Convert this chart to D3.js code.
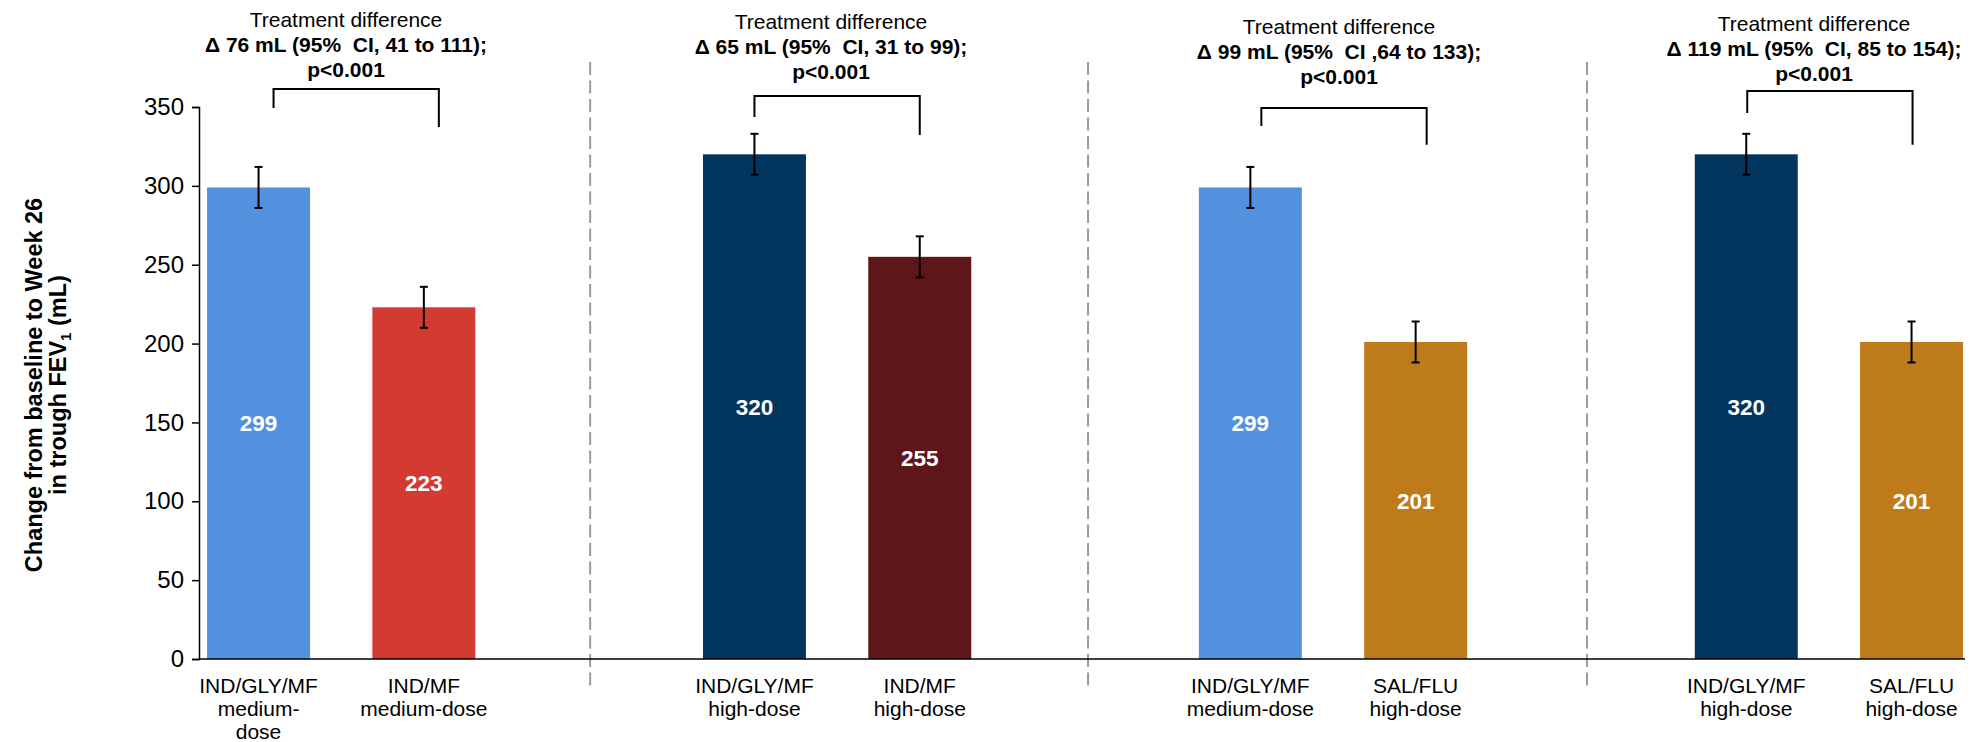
<!DOCTYPE html>
<html>
<head>
<meta charset="utf-8">
<script src="https://cdn.jsdelivr.net/npm/d3@7"></script>
<style>
  html, body { margin: 0; padding: 0; background: #fff; }
  svg { display: block; font-family: "Liberation Sans", Arial, sans-serif; }
  text { white-space: pre; }
</style>
</head>
<body>
<svg id="chart" width="1978" height="742"></svg>
<script>
// Treatment arms, in the order they appear along the axis (two per comparison)
const armLabels = [
  ["IND/GLY/MF", "medium-", "dose"],
  ["IND/MF", "medium-dose"],
  ["IND/GLY/MF", "high-dose"],
  ["IND/MF", "high-dose"],
  ["IND/GLY/MF", "medium-dose"],
  ["SAL/FLU", "high-dose"],
  ["IND/GLY/MF", "high-dose"],
  ["SAL/FLU", "high-dose"]
];
// Slot along the category axis for each arm (slots 2, 5, 8 are the gaps between comparisons)
const armSlots = [0, 1, 3, 4, 6, 7, 9, 10];
const gapSlots = [2, 5, 8];
// Change from baseline to Week 26 in trough FEV1 (mL)
const changeValues = [299, 223, 320, 255, 299, 201, 320, 201];
const changeErrors = [13, 13, 13, 13, 13, 13, 13, 13];
const armColors = ["#5291DE", "#D23A32", "#03365F", "#5E161A", "#5291DE", "#BE7B1B", "#03365F", "#BE7B1B"];

// Treatment differences per comparison
const diffHeading = "Treatment difference";
const diffText = [
  "Δ 76 mL (95%  CI, 41 to 111);",
  "Δ 65 mL (95%  CI, 31 to 99);",
  "Δ 99 mL (95%  CI ,64 to 133);",
  "Δ 119 mL (95%  CI, 85 to 154);"
];
const diffP = ["p<0.001", "p<0.001", "p<0.001", "p<0.001"];

const yTicks = [0, 50, 100, 150, 200, 250, 300, 350];

// ---- layout ----
const svg = d3.select("#chart");
const FONT = 21;
const axisLeft = 199, axisRight = 1965;
const y = d3.scaleLinear().domain([0, 350]).range([659, 107]);
const slotIds = d3.range(11);
const x = d3.scaleBand()
  .domain(slotIds)
  .range([175.9, 1994.2])
  .paddingInner(0.377)
  .paddingOuter(0.1885);
const slotCenter = s => x(s) + x.bandwidth() / 2;

// bracket heights (in mL) and horizontal shift per comparison; text baselines in px
const bracketLayout = [
  { top: 361.4, left: 349.4, right: 337.3, shift: 15, textX: 346, base: 27 },
  { top: 357.0, left: 343.7, right: 332.3, shift: 0,  textX: 831, base: 29 },
  { top: 349.4, left: 338.0, right: 326.0, shift: 11, textX: 1339, base: 34 },
  { top: 360.2, left: 346.2, right: 326.0, shift: 1,  textX: 1814, base: 31 }
];

// dashed separators between comparisons
svg.append("g").selectAll("line")
  .data(gapSlots)
  .join("line")
  .attr("x1", (d, i) => slotCenter(d) + [1, 3, 6][i])
  .attr("x2", (d, i) => slotCenter(d) + [1, 3, 6][i])
  .attr("y1", 62).attr("y2", 689)
  .attr("stroke", "#9a9a9a")
  .attr("stroke-width", 2)
  .attr("stroke-dasharray", "13,5.5");

// bars
const arms = changeValues.map((v, i) => ({
  v, e: changeErrors[i], slot: armSlots[i], color: armColors[i], label: armLabels[i]
}));

svg.append("g").selectAll("rect")
  .data(arms)
  .join("rect")
  .attr("x", d => x(d.slot))
  .attr("width", x.bandwidth())
  .attr("y", d => y(d.v))
  .attr("height", d => y(0) - y(d.v))
  .attr("fill", d => d.color);

// value labels inside the bars
svg.append("g").selectAll("text")
  .data(arms)
  .join("text")
  .attr("x", d => slotCenter(d.slot))
  .attr("y", d => y(d.v / 2))
  .attr("dy", "0.36em")
  .attr("text-anchor", "middle")
  .attr("font-size", 22.5)
  .attr("font-weight", "bold")
  .attr("fill", "#fff")
  .text(d => d.v);

// error bars
const eb = svg.append("g").attr("stroke", "#000").attr("stroke-width", 2).attr("fill", "none");
arms.forEach(d => {
  const cx = slotCenter(d.slot);
  eb.append("line").attr("x1", cx).attr("x2", cx).attr("y1", y(d.v + d.e)).attr("y2", y(d.v - d.e));
  eb.append("line").attr("x1", cx - 4).attr("x2", cx + 4).attr("y1", y(d.v + d.e)).attr("y2", y(d.v + d.e));
  eb.append("line").attr("x1", cx - 4).attr("x2", cx + 4).attr("y1", y(d.v - d.e)).attr("y2", y(d.v - d.e));
});

// y axis
const yAxis = svg.append("g")
  .attr("transform", `translate(${axisLeft},0)`)
  .call(d3.axisLeft(y).tickValues(yTicks).tickSize(7).tickPadding(8));
yAxis.select(".domain").attr("stroke", "#000").attr("stroke-width", 1.5);
yAxis.selectAll(".tick line").attr("stroke", "#000").attr("stroke-width", 1.5);
yAxis.selectAll(".tick text")
  .attr("font-size", 24)
  .attr("font-family", "'Liberation Sans', Arial, sans-serif")
  .attr("fill", "#000");

// x axis baseline
svg.append("line")
  .attr("x1", axisLeft).attr("x2", axisRight)
  .attr("y1", y(0)).attr("y2", y(0))
  .attr("stroke", "#000").attr("stroke-width", 1.5);

// category labels
const xl = svg.append("g").attr("font-size", FONT).attr("fill", "#000").attr("text-anchor", "middle");
arms.forEach(d => {
  const t = xl.append("text").attr("x", slotCenter(d.slot)).attr("y", 693);
  d.label.forEach((ln, k) => {
    t.append("tspan").attr("x", slotCenter(d.slot)).attr("dy", k === 0 ? 0 : 23).text(ln);
  });
});

// y axis title
const yt = svg.append("text")
  .attr("transform", "translate(0,385) rotate(-90)")
  .attr("text-anchor", "middle")
  .attr("font-size", 23.5)
  .attr("font-weight", "bold")
  .attr("fill", "#000");
yt.append("tspan").attr("x", 0).attr("y", 42).text("Change from baseline to Week 26");
const l2 = yt.append("tspan").attr("x", 0).attr("y", 66);
l2.append("tspan").text("in trough FEV");
l2.append("tspan").attr("font-size", 15).attr("dy", 5).text("1");
l2.append("tspan").attr("dy", -5).text(" (mL)");

// treatment difference annotations with brackets
const br = svg.append("g").attr("stroke", "#000").attr("stroke-width", 2).attr("fill", "none");
bracketLayout.forEach((b, g) => {
  const xL = slotCenter(armSlots[2 * g]) + b.shift;
  const xR = slotCenter(armSlots[2 * g + 1]) + b.shift;
  br.append("path").attr("d",
    `M${xL},${y(b.left)} V${y(b.top)} H${xR} V${y(b.right)}`);

  const t = svg.append("text")
    .attr("text-anchor", "middle")
    .attr("font-size", FONT)
    .attr("fill", "#000");
  t.append("tspan").attr("x", b.textX).attr("y", b.base).text(diffHeading);
  t.append("tspan").attr("x", b.textX).attr("y", b.base + 25).attr("font-weight", "bold").text(diffText[g]);
  t.append("tspan").attr("x", b.textX).attr("y", b.base + 50).attr("font-weight", "bold").text(diffP[g]);
});
</script>
</body>
</html>
